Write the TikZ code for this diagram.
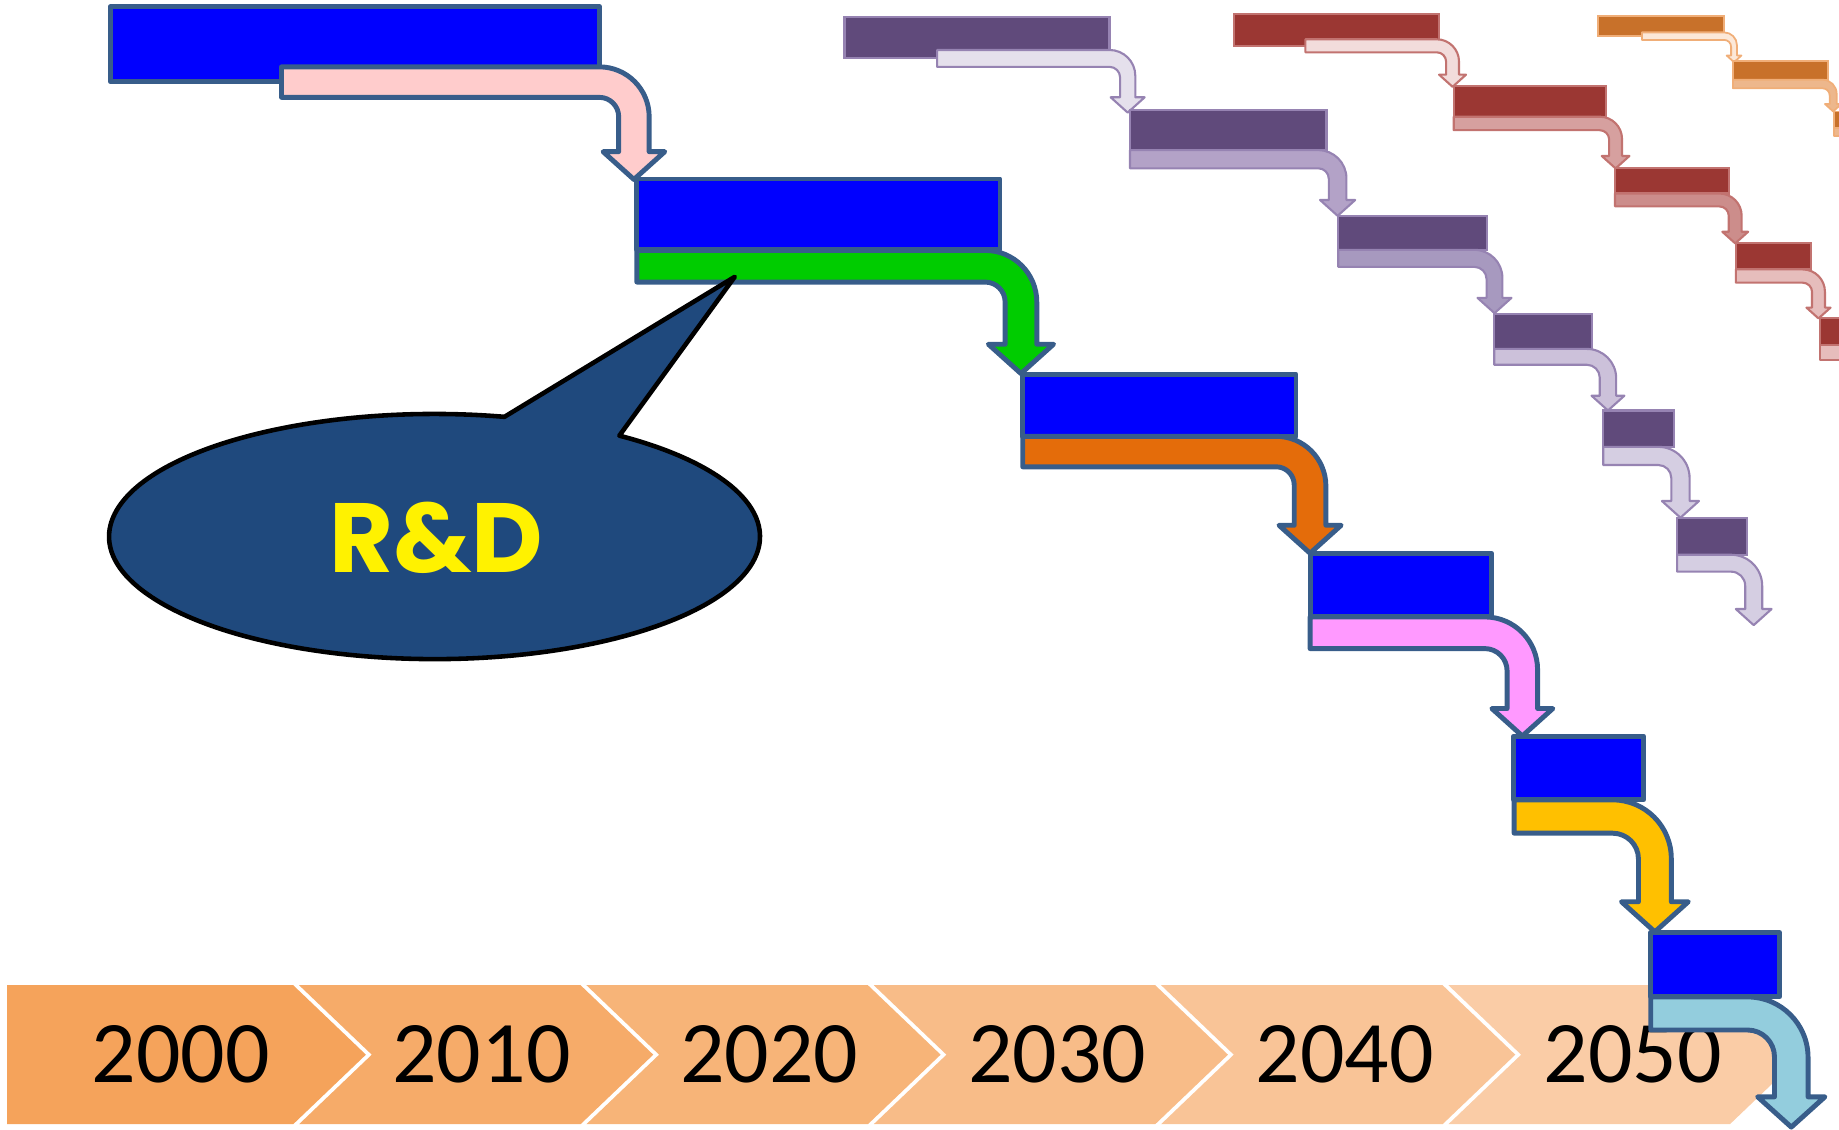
\documentclass[tikz,border=0pt]{standalone}
\usepackage{fontspec}
\setmainfont{Carlito}
\newfontfamily\rdfont{Poppins}

% main staircase
\definecolor{boxblue}{HTML}{0000FF}
\definecolor{edgeblue}{HTML}{385D8A}
\definecolor{arPink}{HTML}{FFCCCC}
\definecolor{arGreen}{HTML}{00CC00}
\definecolor{arOrange}{HTML}{E46C0A}
\definecolor{arMagenta}{HTML}{FF99FF}
\definecolor{arYellow}{HTML}{FFC000}
\definecolor{arSky}{HTML}{93CDDD}
\definecolor{bubblefill}{HTML}{1F497D}
% purple staircase
\definecolor{plum}{HTML}{604A7B}
\definecolor{plumedge}{HTML}{9683B2}
\definecolor{pA}{HTML}{E5E0EC}
\definecolor{pB}{HTML}{B3A2C7}
\definecolor{pC}{HTML}{A799BF}
\definecolor{pD}{HTML}{CCC1DA}
\definecolor{pE}{HTML}{D5CEE2}
% red staircase
\definecolor{brick}{HTML}{9B3733}
\definecolor{brickedge}{HTML}{C27370}
\definecolor{rA}{HTML}{F2DCDB}
\definecolor{rB}{HTML}{D6A09F}
\definecolor{rC}{HTML}{CC8D8B}
\definecolor{rD}{HTML}{E6BDBC}
% orange staircase
\definecolor{rust}{HTML}{C8712A}
\definecolor{rustedge}{HTML}{F0AE78}
\definecolor{oA}{HTML}{FCE8D8}
\definecolor{oB}{HTML}{EDB78C}
% timeline chevrons
\definecolor{chevA}{HTML}{F5A35B}
\definecolor{chevB}{HTML}{F6AB69}
\definecolor{chevC}{HTML}{F7B478}
\definecolor{chevD}{HTML}{F8BC88}
\definecolor{chevE}{HTML}{F9C497}
\definecolor{chevF}{HTML}{FACCA6}

% Bent arrow: #1 style, #2 left x, #3 band top, #4 band bottom,
% #5 bend start x, #6 inner shaft x, #7 outer shaft x, #8 head overhang, #9 tip y
\newcommand{\bentArrow}[9]{%
  \pgfmathsetmacro\arOuter{#7-#5}%
  \pgfmathsetmacro\arInner{#6-#5}%
  \pgfmathsetmacro\arWing{#9-0.9*(#8+(#7-#6)/2)}%
  \pgfmathsetmacro\arTip{(#6+#7)/2}%
  \path[#1] (#2,-#3) -- (#5,-#3)
    .. controls ({#5+0.5523*\arOuter},-#3) and (#7,{-#3-\arOuter+0.5523*\arOuter}) .. (#7,{-#3-\arOuter})
    -- (#7,-\arWing) -- ({#7+#8},-\arWing) -- (\arTip,-#9) -- ({#6-#8},-\arWing) -- (#6,-\arWing)
    -- (#6,{-#4-\arInner})
    .. controls (#6,{-#4-\arInner+0.5523*\arInner}) and ({#5+0.5523*\arInner},-#4) .. (#5,-#4)
    -- (#2,-#4) -- cycle;}

\begin{document}
\begin{tikzpicture}[x=0.011728cm, y=0.011728cm,
  bigbox/.style={fill=boxblue, draw=edgeblue, line width=1.4pt, line join=round},
  bigarrow/.style={draw=edgeblue, line width=1.4pt, line join=round},
  plumbox/.style={fill=plum, draw=plumedge, line width=0.6pt},
  plumarrow/.style={draw=plumedge, line width=0.6pt, line join=round},
  brickbox/.style={fill=brick, draw=brickedge, line width=0.6pt},
  brickarrow/.style={draw=brickedge, line width=0.6pt, line join=round},
  rustbox/.style={fill=rust, draw=rustedge, line width=0.5pt},
  rustarrow/.style={draw=rustedge, line width=0.5pt, line join=round},
  yearlabel/.style={font=\fontsize{25}{30}\selectfont, text=black, inner sep=0pt},
  bubble/.style={fill=bubblefill, draw=black, line width=1.3pt, line join=round}]

\useasboundingbox (0,0) rectangle (1568,-963);
\clip (0,0) rectangle (1568,-963);

% ---- timeline band ----
\fill[chevA] (6,-840) -- (250,-840) -- (312,-899.25) -- (250,-958.5) -- (6,-958.5) -- cycle;
\foreach \k/\c in {1/chevB, 2/chevC, 3/chevD, 4/chevE, 5/chevF}{
  \pgfmathsetmacro\lft{10+245*\k}
  \pgfmathsetmacro\rgt{250+245*\k}
  \fill[\c] (\lft,-840) -- (\rgt,-840) -- ({\rgt+62},-899.25) -- (\rgt,-958.5)
    -- (\lft,-958.5) -- ({\lft+62},-899.25) -- cycle;
}
\node[yearlabel] (y2000) at (154,-899) {2000};
\foreach \k/\yr in {1/2010, 2/2020, 3/2030, 4/2040, 5/2050}{
  \node[yearlabel] (y\yr) at ({410.5+245.4*(\k-1)},-899) {\yr};
}

% ---- purple staircase ----
\draw[plumbox] (720,-14.5) rectangle (946,-49.5);
\bentArrow{plumarrow, fill=pA}{799}{42.6}{57}{946}{955}{968}{8}{96}
\draw[plumbox] (963.5,-94) rectangle (1131,-128);
\bentArrow{plumarrow, fill=pB}{963.5}{128}{143.5}{1124}{1133}{1148}{7.5}{184}
\draw[plumbox] (1141,-184) rectangle (1267.5,-213);
\bentArrow{plumarrow, fill=pC}{1141}{213}{227.5}{1257}{1267.5}{1281}{7.75}{267}
\draw[plumbox] (1274,-267.5) rectangle (1357.5,-297.5);
\bentArrow{plumarrow, fill=pD}{1274}{297.5}{311}{1353}{1364}{1378}{7}{350}
\draw[plumbox] (1367,-350) rectangle (1427.5,-381);
\bentArrow{plumarrow, fill=pE}{1367}{381}{396.5}{1414}{1425}{1440.6}{8}{441.4}
\draw[plumbox] (1430,-441.4) rectangle (1489.6,-473);
\bentArrow{plumarrow, fill=pE}{1430}{473}{487.4}{1476}{1488}{1502.5}{8}{533}

% ---- red staircase ----
\draw[brickbox] (1052,-12) rectangle (1227,-39);
\bentArrow{brickarrow, fill=rA}{1113}{33.5}{44.6}{1225}{1233}{1244}{6}{74}
\draw[brickbox] (1239.5,-73) rectangle (1369,-99.5);
\bentArrow{brickarrow, fill=rB}{1239.5}{99.5}{111}{1364}{1372}{1383}{6.3}{143.6}
\draw[brickbox] (1377,-143.6) rectangle (1474,-165);
\bentArrow{brickarrow, fill=rC}{1377}{165}{176}{1466}{1474}{1485}{5.5}{207.5}
\draw[brickbox] (1480,-207.5) rectangle (1544,-229.7);
\bentArrow{brickarrow, fill=rD}{1480}{229.7}{241}{1537}{1545}{1556}{4.75}{271.5}
\draw[brickbox] (1552,-271.5) rectangle (1600,-294);
\draw[brickarrow, fill=rD] (1552,-294) rectangle (1600,-307);

% ---- orange staircase ----
\draw[rustbox] (1362.6,-13.6) rectangle (1470,-30.7);
\bentArrow{rustarrow, fill=oA}{1400}{27.6}{34}{1470}{1476}{1481}{3.8}{53}
\draw[rustbox] (1477.5,-52) rectangle (1558.6,-68);
\bentArrow{rustarrow, fill=oB}{1477.5}{68}{75.3}{1554}{1560}{1566}{4}{95}
\draw[rustbox] (1564,-95) rectangle (1600,-109);
\draw[rustarrow, fill=oB] (1564,-109) rectangle (1600,-116);

% ---- main blue staircase ----
\draw[bigbox] (94,-5.7) rectangle (511,-69.7);
\bentArrow{bigarrow, fill=arPink}{240}{57}{83}{511}{527.5}{553.5}{13.3}{153}
\draw[bigbox] (543,-152.6) rectangle (852.6,-213);
\bentArrow{bigarrow, fill=arGreen}{543}{213.5}{240.5}{840}{857}{884}{14.3}{318.5}
\draw[bigbox] (872,-319) rectangle (1105,-372);
\bentArrow{bigarrow, fill=arOrange}{872}{372}{398}{1088}{1103.5}{1130.5}{13}{471.7}
\draw[bigbox] (1117,-471.8) rectangle (1272,-526);
\bentArrow{bigarrow, fill=arMagenta}{1117}{526}{553}{1266}{1285}{1311}{13}{627.5}
\draw[bigbox] (1290.5,-627.6) rectangle (1401.5,-682);
\bentArrow{bigarrow, fill=arYellow}{1291}{682}{710.4}{1375}{1397}{1425}{14.5}{794.5}
\draw[bigbox] (1407.5,-795) rectangle (1517.3,-850);
\bentArrow{bigarrow, fill=arSky}{1407.5}{850}{878.2}{1490}{1513}{1541.6}{14.4}{961}

% ---- speech bubble ----
\draw[bubble] (430.1,-355.4) arc[start angle=77.6, end angle=415.4, x radius=277.5, y radius=104.5]
  -- (626.5,-236) -- cycle;
\node[text=yellow, font=\rdfont\bfseries\fontsize{28}{34}\selectfont, inner sep=0pt] (rd) at (372,-458.5) {R\&D};

\end{tikzpicture}
\end{document}
